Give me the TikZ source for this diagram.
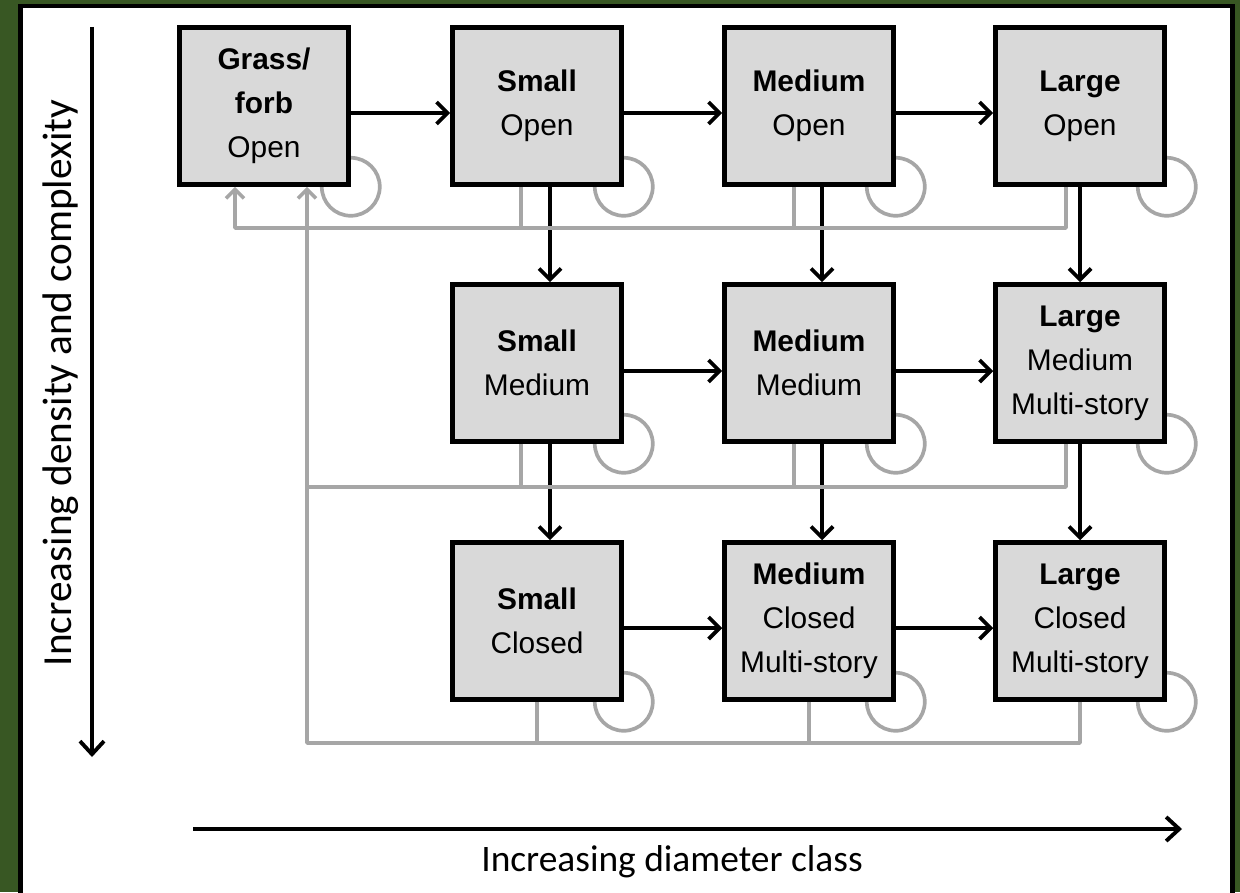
\documentclass[tikz,border=0pt]{standalone}
\usepackage{fontspec}
\setmainfont{Liberation Sans}
\newfontfamily\axisfont{Carlito}
\usetikzlibrary{arrows.meta,calc,backgrounds}
\definecolor{leafgreen}{RGB}{56,87,35}
\definecolor{boxgray}{RGB}{217,217,217}
\definecolor{backgray}{RGB}{166,166,166}
\tikzset{
  stage/.style={draw=black, line width=2.6pt, fill=boxgray, minimum width=3.38cm,
    minimum height=3.14cm, inner sep=0pt, align=center,
    font=\fontsize{17}{25}\selectfont},
  flow/.style={line width=2.2pt, -{Straight Barb[length=2.2mm,width=4.4mm]}},
  back/.style={draw=backgray, line width=2.1pt, line join=round},
  backarrow/.style={back, -{Straight Barb[length=1.8mm,width=3.6mm]}},
  axis/.style={line width=2.2pt, -{Straight Barb[length=2.6mm,width=4.8mm]}},
  axislabel/.style={font=\axisfont, inner sep=0pt}
}
\begin{document}
\begin{tikzpicture}[x=0.02cm, y=-0.02cm]
		\useasboundingbox (0,0) rectangle (1240,892);
		%Stages of the grid
		\node[stage] (go) at (264,106) {\textbf{Grass/}\\\textbf{forb}\\Open};
		\node[stage] (so) at (537,106) {\textbf{Small}\\Open};
		\node[stage] (mo) at (809,106) {\textbf{Medium}\\Open};
		\node[stage] (lo) at (1080,106) {\textbf{Large}\\Open};
		\node[stage] (sm) at (537,363) {\textbf{Small}\\Medium};
		\node[stage] (mm) at (809,363) {\textbf{Medium}\\Medium};
		\node[stage] (lm) at (1080,363) {\textbf{Large}\\Medium\\Multi-story};
		\node[stage] (sc) at (537,621) {\textbf{Small}\\Closed};
		\node[stage] (mc) at (809,621) {\textbf{Medium}\\Closed\\Multi-story};
		\node[stage] (lc) at (1080,621) {\textbf{Large}\\Closed\\Multi-story};
		%Frame and self loops behind the stages
		\begin{scope}[on background layer]
		\fill[leafgreen] (0,0) rectangle (1240,892);
		\draw[line width=2.8pt, fill=white] (20.5,6) rectangle (1232.5,900);
		\foreach \n in {go,so,mo,lo,sm,mm,lm,sc,mc,lc}
		\draw[back] (\n.south east) circle[radius=29];
		\end{scope}
		%Growth along a row
		\draw[flow] ($(go.east)+(0,7)$) -- ($(so.west)+(0,7)$);
		\draw[flow] ($(so.east)+(0,7)$) -- ($(mo.west)+(0,7)$);
		\draw[flow] ($(mo.east)+(0,7)$) -- ($(lo.west)+(0,7)$);
		\draw[flow] ($(sm.east)+(0,8)$) -- ($(mm.west)+(0,8)$);
		\draw[flow] ($(mm.east)+(0,8)$) -- ($(lm.west)+(0,8)$);
		\draw[flow] ($(sc.east)+(0,7)$) -- ($(mc.west)+(0,7)$);
		\draw[flow] ($(mc.east)+(0,7)$) -- ($(lc.west)+(0,7)$);
		%Growth down a column
		\draw[flow] ($(so.south)+(13,0)$) -- ($(sm.north)+(13,0)$);
		\draw[flow] ($(mo.south)+(13,0)$) -- ($(mm.north)+(13,0)$);
		\draw[flow] (lo.south) -- (lm.north);
		\draw[flow] ($(sm.south)+(13,0)$) -- ($(sc.north)+(13,0)$);
		\draw[flow] ($(mm.south)+(13,0)$) -- ($(mc.north)+(13,0)$);
		\draw[flow] (lm.south) -- (lc.north);
		%Disturbance back to grass/forb
		\coordinate (bus1) at (235,228);
		\coordinate (bus2) at (307,487);
		\coordinate (bus3) at (307,743);
		\draw[backarrow] ($(lo.south)+(-14,0)$) |- (bus1) -- (bus1 |- go.south);
		\draw[back] ($(so.south)+(-16,0)$) |- (bus1);
		\draw[back] ($(mo.south)+(-15,0)$) |- (bus1);
		\draw[back] ($(lm.south)+(-14,0)$) |- (bus2);
		\draw[back] ($(sm.south)+(-16,0)$) |- (bus2);
		\draw[back] ($(mm.south)+(-15,0)$) |- (bus2);
		\draw[backarrow] (lc.south) |- (bus3) -- (bus3 |- go.south);
		\draw[back] (sc.south) -- (sc.south |- bus3);
		\draw[back] (mc.south) -- (mc.south |- bus3);
		%Axes
		\coordinate (dtop) at (92,27);
		\coordinate (dbot) at (92,757);
		\coordinate (cleft) at (193,829);
		\coordinate (cright) at (1182,829);
		\draw[axis] (dtop) -- (dbot);
		\draw[axis] (cleft) -- (cright);
		\node[axislabel, rotate=90, font=\axisfont\fontsize{23.5}{28}\selectfont] (dlabel) at (61,383) {Increasing density and complexity};
		\node[axislabel, font=\axisfont\fontsize{21.3}{26}\selectfont] (clabel) at (672,862) {Increasing diameter class};
\end{tikzpicture}
\end{document}
